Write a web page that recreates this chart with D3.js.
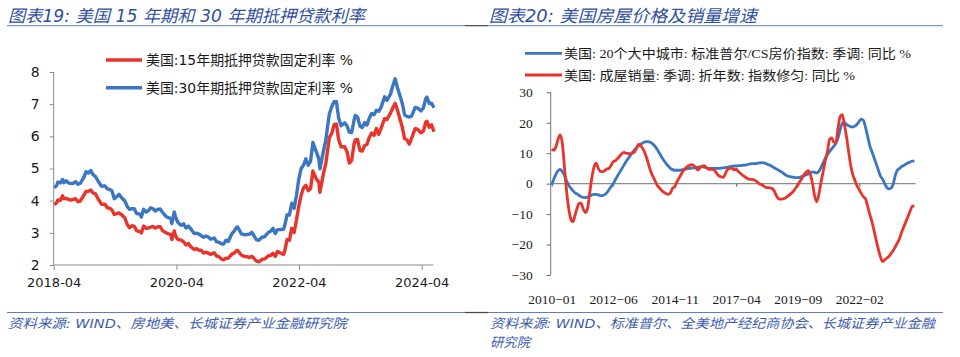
<!DOCTYPE html>
<html><head><meta charset="utf-8">
<script src="https://cdn.jsdelivr.net/npm/d3@7/dist/d3.min.js"></script>
<style>
body{margin:0;background:#fff;}
svg{display:block;}
</style></head>
<body>
<svg id="c" width="960" height="357"></svg>
<script>
// ---------- DATA: left chart (Freddie Mac, %) ----------
const rateDates = [
"2018-04-05","2018-04-19","2018-04-26","2018-05-10","2018-05-24","2018-05-31","2018-06-14","2018-06-28","2018-07-12","2018-07-26","2018-08-09","2018-08-23","2018-09-06","2018-09-27","2018-10-11","2018-10-25","2018-11-08","2018-11-21","2018-12-06","2018-12-20",
"2019-01-10","2019-01-31","2019-02-14","2019-02-28","2019-03-14","2019-03-28","2019-04-11","2019-04-25","2019-05-09","2019-05-30","2019-06-13","2019-06-27","2019-07-11","2019-07-25","2019-08-08","2019-08-29","2019-09-05","2019-09-19","2019-10-03","2019-10-17","2019-10-31","2019-11-14","2019-11-27","2019-12-12","2019-12-26",
"2020-01-09","2020-01-30","2020-02-13","2020-02-27","2020-03-05","2020-03-19","2020-03-26","2020-04-09","2020-04-30","2020-05-14","2020-05-28","2020-06-11","2020-06-25","2020-07-16","2020-07-30","2020-08-13","2020-08-27","2020-09-10","2020-09-24","2020-10-08","2020-10-22","2020-11-12","2020-11-26","2020-12-10","2020-12-24",
"2021-01-07","2021-01-21","2021-02-04","2021-02-25","2021-03-11","2021-03-25","2021-04-01","2021-04-22","2021-05-13","2021-05-27","2021-06-10","2021-06-24","2021-07-08","2021-07-22","2021-08-05","2021-08-26","2021-09-09","2021-09-30","2021-10-14","2021-10-28","2021-11-11","2021-11-24","2021-12-09","2021-12-30",
"2022-01-06","2022-01-20","2022-02-03","2022-02-17","2022-03-03","2022-03-17","2022-03-31","2022-04-14","2022-04-28","2022-05-12","2022-05-26","2022-06-09","2022-06-23","2022-06-30","2022-07-14","2022-07-28","2022-08-04","2022-08-25","2022-09-08","2022-09-29","2022-10-13","2022-10-27","2022-11-10","2022-11-23","2022-12-08","2022-12-29",
"2023-01-12","2023-01-26","2023-02-09","2023-02-23","2023-03-02","2023-03-16","2023-03-30","2023-04-13","2023-04-27","2023-05-11","2023-05-25","2023-06-08","2023-06-22","2023-07-06","2023-07-20","2023-08-03","2023-08-24","2023-09-07","2023-09-28","2023-10-12","2023-10-26","2023-11-09","2023-11-22","2023-12-07","2023-12-21",
"2024-01-04","2024-01-18","2024-02-01","2024-02-22","2024-03-07","2024-03-28","2024-04-11","2024-04-25","2024-05-02","2024-05-16","2024-05-30","2024-06-13"];
const rate30 = [
4.40,4.47,4.58,4.55,4.66,4.56,4.62,4.55,4.53,4.54,4.59,4.51,4.54,4.72,4.90,4.86,4.94,4.81,4.75,4.62,
4.45,4.46,4.37,4.35,4.31,4.06,4.12,4.20,4.10,3.99,3.82,3.73,3.75,3.75,3.60,3.58,3.49,3.73,3.65,3.69,3.78,3.75,3.68,3.73,3.74,
3.64,3.51,3.47,3.45,3.29,3.65,3.50,3.33,3.23,3.28,3.15,3.21,3.13,2.98,2.99,2.96,2.91,2.86,2.90,2.87,2.80,2.84,2.72,2.71,2.66,
2.65,2.77,2.73,2.97,3.05,3.17,3.18,2.97,2.94,2.95,2.96,3.02,2.90,2.78,2.77,2.87,2.88,3.01,3.05,3.14,2.98,3.10,3.10,3.11,
3.22,3.56,3.55,3.92,3.76,4.16,4.67,5.00,5.10,5.30,5.10,5.23,5.81,5.70,5.51,5.30,4.99,5.55,5.89,6.70,6.92,7.08,7.08,6.58,6.33,6.42,
6.33,6.13,6.12,6.50,6.65,6.60,6.32,6.27,6.43,6.35,6.57,6.71,6.67,6.81,6.78,6.90,7.23,7.12,7.31,7.57,7.79,7.50,7.29,7.03,6.67,
6.62,6.60,6.63,6.90,6.88,6.79,6.88,7.17,7.22,7.02,7.03,6.89];
const rate15 = [
3.87,3.94,4.02,4.01,4.15,4.06,4.07,4.04,4.02,4.04,4.06,3.97,3.99,4.16,4.29,4.29,4.33,4.24,4.21,4.07,
3.89,3.89,3.78,3.77,3.71,3.57,3.60,3.62,3.57,3.46,3.26,3.16,3.22,3.20,3.07,3.03,3.00,3.21,3.14,3.15,3.18,3.20,3.15,3.19,3.19,
3.07,3.00,2.97,2.95,2.79,3.06,2.92,2.80,2.77,2.72,2.62,2.67,2.57,2.48,2.51,2.46,2.46,2.37,2.40,2.37,2.33,2.38,2.28,2.26,2.19,
2.16,2.21,2.21,2.34,2.37,2.45,2.45,2.31,2.26,2.26,2.23,2.27,2.20,2.12,2.10,2.18,2.19,2.28,2.30,2.36,2.27,2.42,2.38,2.33,
2.43,2.79,2.77,3.14,3.01,3.39,3.83,4.17,4.40,4.48,4.31,4.38,4.92,4.83,4.67,4.58,4.26,4.85,5.16,5.96,6.09,6.36,6.38,5.90,5.67,5.68,
5.52,5.17,5.25,5.76,5.89,5.90,5.56,5.54,5.71,5.75,5.97,6.10,6.03,6.24,6.06,6.25,6.55,6.52,6.72,6.89,7.03,6.81,6.56,6.29,5.93,
5.89,5.76,5.94,6.24,6.22,6.11,6.16,6.44,6.47,6.28,6.36,6.14];
const leftXTicks = ["2018-04","2020-04","2022-04","2024-04"];
const leftYTicks = [2,3,4,5,6,7,8];
const leftLegend = ["美国:15年期抵押贷款固定利率 %","美国:30年期抵押贷款固定利率 %"];

// ---------- DATA: right chart (monthly, 2010-01 .. 2024-04, YoY %) ----------
const monthStart = "2010-01";
const csPrice = [
-0.4,1.5,3.0,4.2,4.7,4.0,2.8,1.0,-0.5,-1.5,-2.3,-3.0,
-3.4,-3.9,-4.3,-4.5,-4.6,-4.4,-4.0,-3.7,-3.5,-3.5,-3.7,-3.9,
-3.9,-3.6,-3.0,-2.0,-1.0,0.0,1.2,2.5,3.7,4.8,6.0,7.2,
8.2,9.2,10.2,11.0,11.8,12.4,13.0,13.4,13.7,13.8,13.7,13.4,
12.8,12.0,11.0,9.8,8.6,7.5,6.6,5.8,5.0,4.6,4.4,4.4,
4.4,4.5,4.6,4.8,4.9,5.0,5.1,5.2,5.3,5.4,5.5,5.5,
5.4,5.2,5.0,5.0,5.0,5.0,5.0,5.0,5.1,5.2,5.3,5.4,
5.6,5.7,5.8,5.8,5.9,5.9,6.0,6.1,6.2,6.4,6.5,6.6,
6.6,6.7,6.8,6.9,6.8,6.6,6.3,6.0,5.6,5.2,4.8,4.4,
4.0,3.5,3.0,2.6,2.4,2.2,2.1,2.0,2.0,2.1,2.3,2.6,
2.9,3.2,3.6,3.9,3.7,3.5,4.0,5.3,6.8,8.4,9.6,10.5,
11.5,12.3,13.2,15.0,17.5,19.8,20.0,19.5,19.0,18.7,18.6,18.9,
19.5,20.5,21.2,20.8,18.5,15.5,12.5,10.5,8.5,6.5,4.5,2.5,
1.5,0.0,-1.2,-1.7,-1.5,-0.3,2.6,4.4,5.0,5.6,6.0,6.4,
6.8,7.1,7.4,7.4];
const homeSales = [
11.3,11.0,12.0,14.5,16.0,13.5,6.0,-2.0,-8.0,-11.5,-12.5,-10.5,
-8.0,-6.4,-6.5,-8.5,-9.5,-8.0,-3.0,2.0,5.5,6.7,5.0,4.0,
3.9,4.3,4.8,5.0,6.0,7.2,7.5,8.2,9.0,9.8,10.3,10.0,
9.9,9.8,10.0,10.4,11.5,13.0,12.5,11.5,10.0,8.0,5.5,3.5,
2.0,0.5,-0.8,-1.5,-2.3,-2.9,-3.3,-3.5,-3.0,-1.5,-1.0,0.5,
1.8,3.0,4.2,5.0,5.6,6.0,6.2,6.0,5.2,4.5,5.3,5.8,
5.8,5.2,4.8,4.7,4.7,4.2,3.2,2.5,2.2,2.1,3.5,4.7,
5.0,5.0,4.5,4.8,4.0,3.4,2.8,2.3,1.8,1.5,1.4,1.3,
1.0,0.5,-0.1,-0.3,-0.8,-1.2,-1.3,-1.4,-1.6,-2.5,-4.0,-5.0,
-5.1,-5.0,-4.8,-4.3,-3.8,-3.2,-2.5,-1.5,-0.4,0.6,1.8,2.9,
3.8,4.3,3.0,0.0,-4.0,-5.9,-3.5,0.5,4.0,7.5,10.5,14.5,
15.0,13.6,13.5,18.0,22.0,22.7,19.5,15.5,10.5,6.0,2.9,1.0,
-0.8,-2.0,-3.2,-4.3,-5.0,-7.5,-10.0,-12.5,-15.5,-18.5,-21.5,-24.0,
-25.6,-25.0,-24.5,-23.9,-23.0,-22.0,-20.8,-19.5,-18.0,-16.0,-14.2,-12.5,
-10.8,-9.0,-7.5,-7.3];
const rightXTicks = ["2010-01","2012-06","2014-11","2017-04","2019-09","2022-02"];
const rightYTicks = [-30,-20,-10,0,10,20,30];
const rightLegend = ["美国: 20个大中城市: 标准普尔/CS房价指数: 季调: 同比 %","美国: 成屋销量: 季调: 折年数: 指数修匀: 同比 %"];

const titles = ["图表19:  美国 15 年期和 30 年期抵押贷款利率","图表20:  美国房屋价格及销量增速"];
const sources = ["资料来源:   WIND、房地美、长城证券产业金融研究院","资料来源: WIND、标准普尔、全美地产经纪商协会、长城证券产业金融","研究院"];

// ---------- DRAWING ----------
const RED = "#e8342b", BLUE = "#3a76c2", AXIS = "#8a8a8a", TXTBLUE = "#2f4f9f", LINEBLUE = "#5b7fc4";
const svg = d3.select("#c");
const parseD = d3.timeParse("%Y-%m-%d");
const parseM = d3.timeParse("%Y-%m");
const sansCJK = "'DejaVu Sans','Noto Sans CJK SC',sans-serif";
const serifCJK = "'Liberation Serif','Noto Sans CJK SC',serif";

// header / footer
function rule(y){
  svg.append("line").attr("x1",7).attr("x2",465).attr("y1",y).attr("y2",y).attr("stroke",LINEBLUE).attr("stroke-width",1);
  svg.append("line").attr("x1",465).attr("x2",488).attr("y1",y).attr("y2",y).attr("stroke","#444").attr("stroke-width",1.2);
  svg.append("line").attr("x1",488).attr("x2",943).attr("y1",y).attr("y2",y).attr("stroke",LINEBLUE).attr("stroke-width",1);
}
rule(25.7); rule(312.5);
svg.append("text").attr("x",8).attr("y",21.5).text(titles[0])
  .attr("font-family",sansCJK).attr("font-style","italic").attr("font-size",17).attr("fill",TXTBLUE)
  .attr("textLength",357).attr("lengthAdjust","spacingAndGlyphs");
svg.append("text").attr("x",489).attr("y",21.5).text(titles[1])
  .attr("font-family",sansCJK).attr("font-style","italic").attr("font-size",17).attr("fill",TXTBLUE)
  .attr("textLength",268).attr("lengthAdjust","spacingAndGlyphs");
[[8,328,sources[0],339],[490,328,sources[1],445],[490,347,sources[2],40]].forEach(s=>{
  svg.append("text").attr("x",s[0]).attr("y",s[1]).text(s[2])
    .attr("font-family",sansCJK).attr("font-style","italic").attr("font-size",13).attr("fill","#3d5cae")
    .attr("textLength",s[3]).attr("lengthAdjust","spacingAndGlyphs");
});

// ----- left chart -----
const xL = d3.scaleTime().domain([parseM("2018-04"), parseM("2024-04")]).range([53.7, 421.7]);
const yL = d3.scaleLinear().domain([2,8]).range([265,72]);
const gL = svg.append("g");
const axL = gL.append("g").attr("transform","translate(0,265)")
  .call(d3.axisBottom(xL).tickValues(leftXTicks.map(parseM)).tickFormat(d3.timeFormat("%Y-%m")).tickSize(5).tickPadding(8).tickSizeOuter(0));
axL.select(".domain").remove();
axL.selectAll("line").attr("stroke",AXIS);
axL.selectAll("text").attr("font-family","'DejaVu Sans',sans-serif").attr("font-size",13).attr("fill","#1a1a1a");
const ayL = gL.append("g").attr("transform","translate(53.7,0)")
  .call(d3.axisLeft(yL).tickValues(leftYTicks).tickFormat(d3.format("d")).tickSize(4).tickPadding(10).tickSizeOuter(0));
ayL.select(".domain").remove();
ayL.selectAll("line").attr("stroke",AXIS);
ayL.selectAll("text").attr("font-family","'DejaVu Sans',sans-serif").attr("font-size",14).attr("fill","#1a1a1a");
gL.append("line").attr("x1",53.7).attr("x2",433.3).attr("y1",265).attr("y2",265).attr("stroke",AXIS);
gL.append("line").attr("x1",53.7).attr("x2",53.7).attr("y1",72).attr("y2",265).attr("stroke",AXIS);

const lineL = (arr)=> d3.line().x((d,i)=>xL(parseD(rateDates[i]))).y(d=>yL(d))(arr);
gL.append("path").attr("d",lineL(rate15)).attr("fill","none").attr("stroke",RED).attr("stroke-width",3.4).attr("stroke-linejoin","round");
gL.append("path").attr("d",lineL(rate30)).attr("fill","none").attr("stroke",BLUE).attr("stroke-width",3.4).attr("stroke-linejoin","round");

[[60,RED,leftLegend[0]],[87.7,BLUE,leftLegend[1]]].forEach(l=>{
  gL.append("line").attr("x1",106).attr("x2",142).attr("y1",l[0]).attr("y2",l[0]).attr("stroke",l[1]).attr("stroke-width",3.4);
  gL.append("text").attr("x",146).attr("y",l[0]+5).text(l[2]).attr("font-family",sansCJK).attr("font-size",14).attr("fill","#1a1a1a")
    .attr("textLength",207).attr("lengthAdjust","spacingAndGlyphs");
});

// ----- right chart -----
const m0 = parseM(monthStart);
const months = csPrice.map((d,i)=>d3.timeMonth.offset(m0,i));
const xR = d3.scaleTime().domain([parseM("2010-01"), parseM("2022-02")]).range([551.7, 859.3]);
const yR = d3.scaleLinear().domain([-30,30]).range([275,92.3]);
const gR = svg.append("g");
const fmtR = d=>d3.timeFormat("%Y-%m")(d).replace("-","\u2212");
const axR = gR.append("g").attr("transform",`translate(0,${yR(0)})`)
  .call(d3.axisBottom(xR).tickValues(rightXTicks.map(parseM)).tickFormat(fmtR).tickSize(3).tickSizeOuter(0));
axR.select(".domain").remove();
axR.selectAll("line").attr("stroke","#555");
axR.selectAll("text").attr("y",275-yR(0)+19).attr("font-family","'Liberation Serif',serif").attr("font-size",13.5).attr("fill","#1a1a1a");
const ayR = gR.append("g").attr("transform","translate(550.7,0)")
  .call(d3.axisLeft(yR).tickValues(rightYTicks).tickFormat(d=>String(d).replace("-","\u2212")).tickSize(4).tickPadding(14).tickSizeOuter(0));
ayR.select(".domain").remove();
ayR.selectAll("line").attr("stroke","#666");
ayR.selectAll("text").attr("font-family","'Liberation Serif',serif").attr("font-size",13.5).attr("fill","#1a1a1a");
gR.append("line").attr("x1",550.7).attr("x2",550.7).attr("y1",92.3).attr("y2",275).attr("stroke","#777");
gR.append("line").attr("x1",550.7).attr("x2",915.5).attr("y1",yR(0)).attr("y2",yR(0)).attr("stroke","#8c8c8c").attr("stroke-width",1.2);

const lineR = (arr)=> d3.line().x((d,i)=>xR(months[i])).y(d=>yR(d)).curve(d3.curveMonotoneX)(arr);
gR.append("path").attr("d",lineR(csPrice)).attr("fill","none").attr("stroke",BLUE).attr("stroke-width",2.8).attr("stroke-linejoin","round");
gR.append("path").attr("d",lineR(homeSales)).attr("fill","none").attr("stroke",RED).attr("stroke-width",2.8).attr("stroke-linejoin","round");

[[53.3,BLUE,rightLegend[0],347],[75,RED,rightLegend[1],291]].forEach(l=>{
  gR.append("line").attr("x1",525).attr("x2",562).attr("y1",l[0]).attr("y2",l[0]).attr("stroke",l[1]).attr("stroke-width",2.8);
  gR.append("text").attr("x",564).attr("y",l[0]+4.8).text(l[2]).attr("font-family",serifCJK).attr("font-size",13).attr("fill","#1a1a1a")
    .attr("textLength",l[3]).attr("lengthAdjust","spacingAndGlyphs");
});
</script>
</body></html>
